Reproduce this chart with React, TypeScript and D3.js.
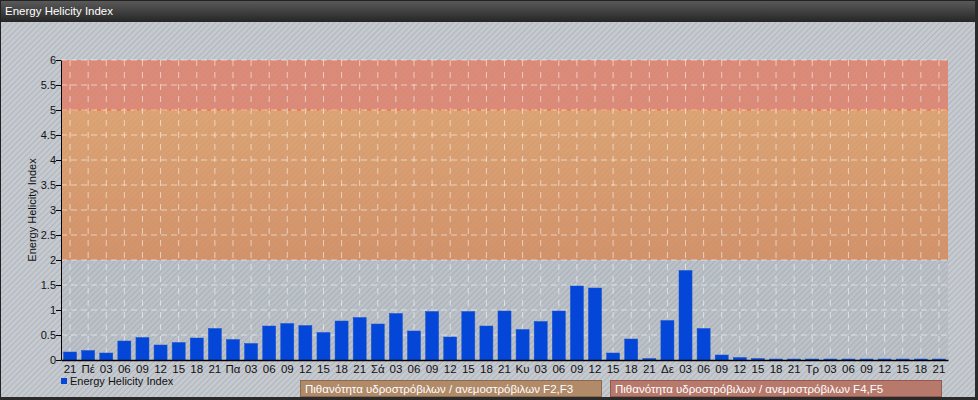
import { useRef, useEffect } from 'react';
import * as d3 from 'd3';

// x categories: hour of day, with day abbreviations at midnight
const CATEGORIES = [
  '21',
  'Πέ', '03', '06', '09', '12', '15', '18', '21',
  'Πα', '03', '06', '09', '12', '15', '18', '21',
  'Σά', '03', '06', '09', '12', '15', '18', '21',
  'Κυ', '03', '06', '09', '12', '15', '18', '21',
  'Δε', '03', '06', '09', '12', '15', '18', '21',
  'Τρ', '03', '06', '09', '12', '15', '18', '21',
];

const EHI_VALUES = [
  0.16,
  0.19, 0.14, 0.38, 0.45, 0.30, 0.35, 0.44, 0.63,
  0.41, 0.33, 0.68, 0.73, 0.69, 0.55, 0.78, 0.85,
  0.72, 0.93, 0.58, 0.97, 0.46, 0.97, 0.68, 0.98,
  0.61, 0.77, 0.98, 1.48, 1.44, 0.14, 0.42, 0.03,
  0.79, 1.79, 0.63, 0.10, 0.05, 0.03, 0.02, 0.02,
  0.02, 0.02, 0.02, 0.02, 0.02, 0.02, 0.02, 0.02,
];

const Y_TICKS = [0, 0.5, 1, 1.5, 2, 2.5, 3, 3.5, 4, 4.5, 5, 5.5, 6];

const BANDS = [
  { from: 2, to: 5, label: 'Πιθανότητα υδροστρόβιλων / ανεμοστρόβιλων F2,F3' },
  { from: 5, to: 6, label: 'Πιθανότητα υδροστρόβιλων / ανεμοστρόβιλων F4,F5' },
];

const W = 978;
const H = 400;
const MARGIN = { top: 60, right: 30, bottom: 40, left: 61 };
const FONT = 'Liberation Sans, Arial, sans-serif';

export default function App() {
  const svgRef = useRef<SVGSVGElement>(null);

  useEffect(() => {
    if (!svgRef.current) return;
    const svg = d3.select(svgRef.current);
    svg.selectAll('*').remove();

    const innerWidth = W - MARGIN.left - MARGIN.right;
    const innerHeight = H - MARGIN.top - MARGIN.bottom;

    const defs = svg.append('defs');

    // diagonal hatching
    const pat = defs.append('pattern')
      .attr('id', 'hatch')
      .attr('width', 4)
      .attr('height', 4)
      .attr('patternUnits', 'userSpaceOnUse')
      .attr('patternTransform', 'rotate(45)');
    pat.append('line')
      .attr('x1', 0).attr('y1', 0).attr('x2', 0).attr('y2', 4)
      .attr('stroke', '#8994a6')
      .attr('stroke-width', 1.3)
      .attr('stroke-opacity', 0.6);

    const titleGrad = defs.append('linearGradient')
      .attr('id', 'titleGrad')
      .attr('x1', 0).attr('y1', 0).attr('x2', 0).attr('y2', 1);
    titleGrad.append('stop').attr('offset', '0%').attr('stop-color', '#5c5c5c');
    titleGrad.append('stop').attr('offset', '100%').attr('stop-color', '#262626');

    const orangeGrad = defs.append('linearGradient')
      .attr('id', 'orangeGrad')
      .attr('x1', 0).attr('y1', 0).attr('x2', 0).attr('y2', 1);
    orangeGrad.append('stop').attr('offset', '0%').attr('stop-color', '#dfa472');
    orangeGrad.append('stop').attr('offset', '100%').attr('stop-color', '#d59268');

    // background
    svg.append('rect')
      .attr('width', W).attr('height', H)
      .attr('fill', '#c6cacf');
    svg.append('rect')
      .attr('width', W).attr('height', H)
      .attr('fill', 'url(#hatch)');

    // title bar
    svg.append('rect')
      .attr('width', W).attr('height', 22)
      .attr('fill', 'url(#titleGrad)');
    svg.append('text')
      .attr('x', 5)
      .attr('y', 15)
      .attr('font-family', FONT)
      .attr('font-size', '11.5px')
      .attr('fill', '#ffffff')
      .text('Energy Helicity Index');

    // frame
    svg.append('rect')
      .attr('x', 0.5).attr('y', 0.5)
      .attr('width', W - 1).attr('height', H - 1)
      .attr('fill', 'none')
      .attr('stroke', '#222');
    svg.append('rect')
      .attr('x', W - 3).attr('y', 0)
      .attr('width', 3).attr('height', H)
      .attr('fill', '#2a2a2a');
    svg.append('rect')
      .attr('x', 0).attr('y', H - 3)
      .attr('width', W).attr('height', 3)
      .attr('fill', '#2a2a2a');

    const x = d3.scaleBand<number>()
      .domain(d3.range(CATEGORIES.length))
      .range([0, innerWidth])
      .paddingInner(0.28)
      .paddingOuter(0.14);

    const y = d3.scaleLinear()
      .domain([0, 6])
      .range([innerHeight, 0]);

    const g = svg.append('g')
      .attr('transform', `translate(${MARGIN.left},${MARGIN.top})`);

    // plot background
    g.append('rect')
      .attr('width', innerWidth).attr('height', innerHeight)
      .attr('fill', '#bcc1c7');
    g.append('rect')
      .attr('width', innerWidth).attr('height', innerHeight)
      .attr('fill', 'url(#hatch)');

    // bands
    g.append('rect')
      .attr('x', 0).attr('width', innerWidth)
      .attr('y', y(BANDS[0].to)).attr('height', y(BANDS[0].from) - y(BANDS[0].to))
      .attr('fill', 'url(#orangeGrad)');
    g.append('rect')
      .attr('x', 0).attr('width', innerWidth)
      .attr('y', y(BANDS[1].to)).attr('height', y(BANDS[1].from) - y(BANDS[1].to))
      .attr('fill', '#de8a76');
    g.append('rect')
      .attr('x', 0).attr('width', innerWidth)
      .attr('y', y(6)).attr('height', y(2) - y(6))
      .attr('fill', 'url(#hatch)')
      .attr('opacity', 0.5);
    g.append('line')
      .attr('x1', 0).attr('x2', innerWidth)
      .attr('y1', y(5)).attr('y2', y(5))
      .attr('stroke', '#ec7a46')
      .attr('stroke-width', 1.5)
      .attr('stroke-dasharray', '6,3');

    // grid
    const bw = x.bandwidth();
    g.append('g')
      .selectAll('line')
      .data(d3.range(CATEGORIES.length))
      .join('line')
      .attr('x1', i => x(i)! + bw / 2)
      .attr('x2', i => x(i)! + bw / 2)
      .attr('y1', 0)
      .attr('y2', innerHeight)
      .attr('stroke', '#ffffff')
      .attr('stroke-opacity', 0.55)
      .attr('stroke-dasharray', '6,6');
    g.append('g')
      .selectAll('line')
      .data(Y_TICKS.slice(1))
      .join('line')
      .attr('x1', 0)
      .attr('x2', innerWidth)
      .attr('y1', d => y(d))
      .attr('y2', d => y(d))
      .attr('stroke', '#ffffff')
      .attr('stroke-opacity', 0.55)
      .attr('stroke-dasharray', '6,4');

    // bars
    g.append('g')
      .selectAll('rect')
      .data(EHI_VALUES)
      .join('rect')
      .attr('x', (_, i) => x(i)!)
      .attr('width', bw)
      .attr('y', d => y(d))
      .attr('height', d => y(0) - y(d))
      .attr('fill', '#0447d8')
      .attr('stroke', '#1a52d0')
      .attr('stroke-width', 0.5);

    // y axis
    g.append('g')
      .call(
        d3.axisLeft(y)
          .tickValues(Y_TICKS)
          .tickSize(5)
          .tickSizeOuter(0)
          .tickFormat(d => String(d))
      )
      .call(a => a.select('.domain').attr('stroke', '#000'))
      .call(a => a.selectAll('.tick line').attr('stroke', '#000'))
      .call(a => a.selectAll('.tick text')
        .attr('font-family', FONT)
        .attr('font-size', '11px')
        .attr('fill', '#111')
        .attr('x', -5));

    // x axis
    g.append('g')
      .attr('transform', `translate(0,${innerHeight})`)
      .call(
        d3.axisBottom(x)
          .tickSize(0)
          .tickSizeOuter(0)
          .tickFormat(i => CATEGORIES[i as number])
      )
      .call(a => a.select('.domain').attr('stroke', '#000').attr('stroke-width', 1.5))
      .call(a => a.selectAll('.tick text')
        .attr('font-family', FONT)
        .attr('font-size', '11.5px')
        .attr('fill', '#111')
        .attr('dy', '0.95em')
        .attr('y', 2));

    // y label
    g.append('text')
      .attr('transform', 'rotate(-90)')
      .attr('x', -innerHeight / 2)
      .attr('y', -25)
      .attr('text-anchor', 'middle')
      .attr('font-family', FONT)
      .attr('font-size', '11px')
      .attr('fill', '#111')
      .text('Energy Helicity Index');

    // legend
    svg.append('rect')
      .attr('x', 61).attr('y', 378)
      .attr('width', 6).attr('height', 6)
      .attr('fill', '#0447d8');
    svg.append('text')
      .attr('x', 70).attr('y', 385)
      .attr('font-family', FONT)
      .attr('font-size', '11px')
      .attr('fill', '#111')
      .text('Energy Helicity Index');

    const legendBoxes = [
      { x0: 300, x1: 601, fill: '#b08a69', stroke: '#8c6a4e' },
      { x0: 610, x1: 941, fill: '#b7796c', stroke: '#955a4e' },
    ];
    legendBoxes.forEach((b, i) => {
      svg.append('rect')
        .attr('x', b.x0 + 0.5).attr('y', 380.5)
        .attr('width', b.x1 - b.x0).attr('height', 16)
        .attr('fill', b.fill)
        .attr('stroke', b.stroke);
      svg.append('text')
        .attr('x', b.x0 + 5).attr('y', 392.5)
        .attr('font-family', FONT)
        .attr('font-size', '11.5px')
        .attr('fill', '#ffffff')
        .text(BANDS[i].label);
    });
  }, []);

  return (
    <div style={{ position: 'absolute', left: 0, top: 0 }}>
      <svg ref={svgRef} width={W} height={H} style={{ display: 'block' }} />
    </div>
  );
}
